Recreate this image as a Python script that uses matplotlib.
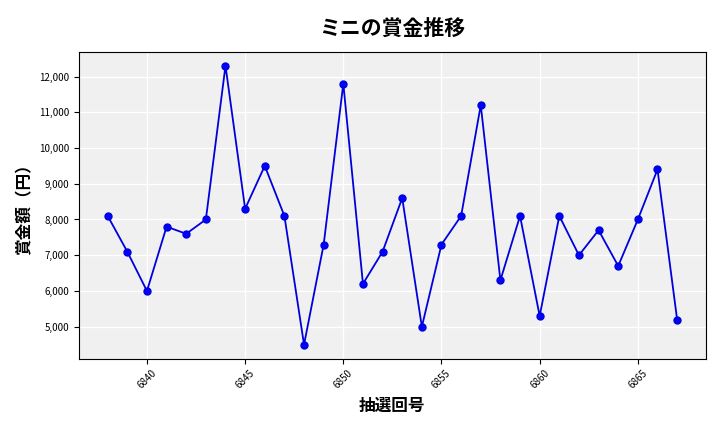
import matplotlib
matplotlib.use("Agg")
import matplotlib.pyplot as plt
from matplotlib.ticker import FuncFormatter

plt.rcParams['font.family'] = ['Noto Sans CJK JP', 'DejaVu Sans']

draws = list(range(6838, 6868))
prizes = [8100, 7100, 6000, 7800, 7600, 8000, 12300, 8300, 9500, 8100,
          4500, 7300, 11800, 6200, 7100, 8600, 5000, 7300, 8100, 11200,
          6300, 8100, 5300, 8100, 7000, 7700, 6700, 8000, 9400, 5200]

fig, ax = plt.subplots(figsize=(7.2, 4.32), dpi=100)
ax.set_facecolor('#f0f0f0')
ax.grid(True, color='white', linewidth=1)
ax.set_axisbelow(True)
ax.plot(draws, prizes, color='#0000dd', marker='o', markersize=5, linewidth=1.3, markerfacecolor='blue')
ax.set_title('ミニの賞金推移', fontsize=15, fontweight='bold', pad=12)
ax.set_xlabel('抽選回号', fontsize=12, fontweight='bold')
ax.set_ylabel('賞金額（円）', fontsize=12, fontweight='bold')
ax.set_xticks(range(6840, 6866, 5))
ax.tick_params(axis='x', labelrotation=45, labelsize=7)
ax.tick_params(axis='y', labelsize=7)
ax.yaxis.set_major_formatter(FuncFormatter(lambda v, p: f'{int(v):,}'))
fig.subplots_adjust(left=0.11, right=0.98, top=0.88, bottom=0.17)
fig.savefig('out.png')
